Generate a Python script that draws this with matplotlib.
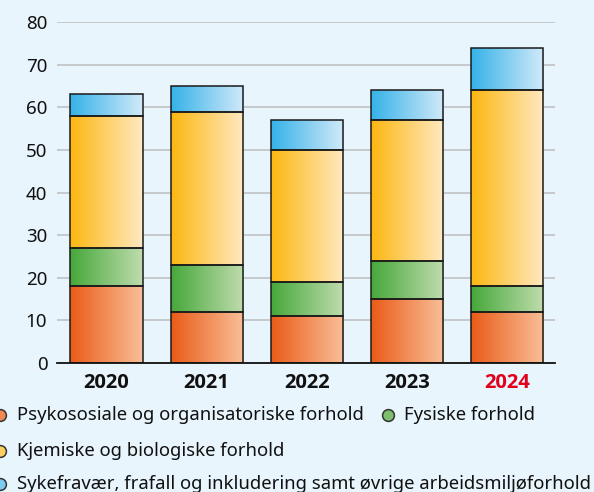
import matplotlib
matplotlib.use("Agg")
import matplotlib.pyplot as plt
import numpy as np
from matplotlib.colors import LinearSegmentedColormap, to_rgb
from matplotlib.patches import Rectangle

years = ["2020", "2021", "2022", "2023", "2024"]
series_names = [
    "Psykososiale og organisatoriske forhold",
    "Fysiske forhold",
    "Kjemiske og biologiske forhold",
    "Sykefravær, frafall og inkludering samt øvrige arbeidsmiljøforhold",
]
psyk = [18, 12, 11, 15, 12]
fys = [9, 11, 8, 9, 6]
kjem = [31, 36, 31, 33, 46]
syk = [5, 6, 7, 7, 10]
yticks = [0, 10, 20, 30, 40, 50, 60, 70, 80]

grads = [("#ea5b18", "#f9bf98"), ("#46a83a", "#c0dcae"),
         ("#fcb70f", "#ffe9c2"), ("#35b2e8", "#d2eaf9")]
BG = "#e8f5fd"
FONT = "Noto Sans"

fig = plt.figure(figsize=(5.94, 4.92), dpi=100, facecolor=BG)
ax = fig.add_axes([57/594, 1-363/492, (555-57)/594, (363-22)/492])
ax.set_facecolor(BG)
for s in ax.spines.values():
    s.set_visible(False)
ax.set_yticks(yticks)
ax.set_yticklabels([str(t) for t in yticks], fontsize=13.5, family=FONT, color="#111")
ax.tick_params(axis="y", length=0, pad=7)
ax.tick_params(axis="x", length=0, pad=7)
ax.yaxis.grid(True, color="#c4c6c8", linewidth=1.3)
ax.set_axisbelow(True)
ax.set_xticks(range(len(years)))
ax.set_xticklabels(years)
for lab in ax.get_xticklabels():
    lab.set_fontproperties({"family": "Open Sans", "weight": "bold", "size": 14.5})
    lab.set_color("#111")
ax.get_xticklabels()[-1].set_color("#e2001a")
ax.axhline(0, color="#111", linewidth=1.3, zorder=5, clip_on=False)

width = 0.72
grad = np.linspace(0, 1, 256).reshape(1, -1)
series = [psyk, fys, kjem, syk]
bottoms = np.zeros(len(years))
for vals, (c0, c1) in zip(series, grads):
    cmap = LinearSegmentedColormap.from_list("g", [c0, c1])
    for i, v in enumerate(vals):
        x0 = i - width/2
        b = bottoms[i]
        rect = Rectangle((x0, b), width, v, facecolor="none", edgecolor="#1a1a1a",
                         linewidth=1.1, zorder=4)
        ax.add_patch(rect)
        im = ax.imshow(grad, cmap=cmap, aspect="auto", extent=[x0, x0+width, b, b+v],
                       zorder=3, interpolation="bilinear")
        im.set_clip_path(rect)
    bottoms += np.array(vals)
ax.set_xlim(-0.494, 4.48)
ax.set_ylim(0, 80)

# legend
legend_items = [(-0.5, 415, 17, 0), (388, 415, 404, 1), (-0.5, 451, 17, 2), (-0.5, 484, 17, 3)]
for cx, cy, tx, k in legend_items:
    c0, c1 = grads[k]
    mid = tuple(0.55*a + 0.45*b for a, b in zip(to_rgb(c0), to_rgb(c1)))
    fig.add_artist(plt.Line2D([cx/594], [1-cy/492], marker="o", markersize=8.5,
                              markerfacecolor=mid, markeredgecolor="#333",
                              markeredgewidth=1.1, linestyle="none",
                              transform=fig.transFigure))
    fig.text(tx/594, 1-cy/492, series_names[k], fontsize=13.3, family=FONT,
             color="#111", va="center", ha="left")

fig.savefig("out.png", dpi=100, facecolor=BG)
